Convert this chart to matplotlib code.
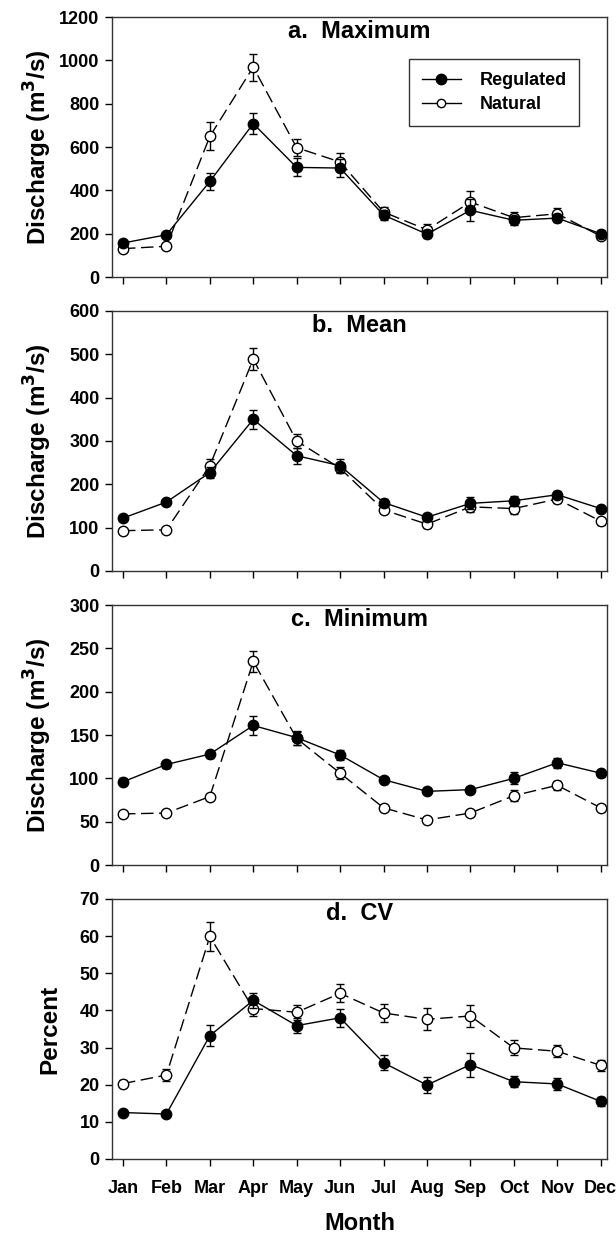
import numpy as np
import matplotlib
matplotlib.use("Agg")
import matplotlib.pyplot as plt
from matplotlib.lines import Line2D

plt.rcParams["font.family"] = ["Liberation Sans", "DejaVu Sans"]
plt.rcParams["font.weight"] = "bold"
plt.rcParams["mathtext.default"] = "bf"

months = ["Jan", "Feb", "Mar", "Apr", "May", "Jun",
          "Jul", "Aug", "Sep", "Oct", "Nov", "Dec"]

# a. Maximum discharge (m3/s)
max_reg = [157, 195, 441, 708, 506, 503, 286, 198, 308, 262, 272, 200]
max_reg_err = [10, 10, 40, 48, 42, 40, 25, 20, 50, 20, 20, 15]
max_nat = [131, 142, 649, 969, 597, 531, 300, 218, 346, 274, 292, 189]
max_nat_err = [10, 12, 65, 62, 38, 42, 25, 25, 52, 25, 25, 15]

# b. Mean discharge (m3/s)
mean_reg = [122, 159, 227, 350, 266, 243, 158, 124, 156, 162, 176, 144]
mean_reg_err = [5, 5, 12, 22, 18, 15, 8, 7, 14, 12, 8, 6]
mean_nat = [93, 95, 243, 489, 300, 237, 141, 108, 148, 144, 166, 115]
mean_nat_err = [5, 5, 15, 25, 17, 10, 8, 8, 12, 12, 8, 8]

# c. Minimum discharge (m3/s)
min_reg = [96, 116, 128, 161, 147, 127, 98.5, 85, 87, 100, 118, 106]
min_reg_err = [4, 4, 4, 11, 8, 6, 3, 3, 3, 7, 6, 4]
min_nat = [59, 60, 79, 235, 146, 106, 66, 52, 60, 80, 92, 66]
min_nat_err = [3, 3, 3, 12, 8, 7, 3, 3, 3, 6, 5, 3]

# d. Coefficient of variation (%)
cv_reg = [12.5, 12.1, 33.2, 42.7, 35.9, 38.0, 25.9, 19.9, 25.4, 20.8, 20.2, 15.5]
cv_reg_err = [0.6, 0.6, 2.8, 2.0, 2.0, 2.4, 2.0, 2.2, 3.2, 1.5, 1.6, 1.2]
cv_nat = [20.3, 22.6, 59.9, 40.5, 39.5, 44.6, 39.3, 37.6, 38.5, 29.9, 29.0, 25.2]
cv_nat_err = [1.0, 1.6, 3.9, 2.0, 2.0, 2.4, 2.4, 3.0, 3.0, 2.0, 1.6, 1.4]

panels = [
    ("a.  Maximum", max_reg, max_reg_err, max_nat, max_nat_err, 1200, 200,
     "Discharge (m$^3$/s)", -0.117),
    ("b.  Mean", mean_reg, mean_reg_err, mean_nat, mean_nat_err, 600, 100,
     "Discharge (m$^3$/s)", -0.117),
    ("c.  Minimum", min_reg, min_reg_err, min_nat, min_nat_err, 300, 50,
     "Discharge (m$^3$/s)", -0.117),
    ("d.  CV", cv_reg, cv_reg_err, cv_nat, cv_nat_err, 70, 10, "Percent",
     -0.102),
]

fig = plt.figure(figsize=(6.16, 12.34), dpi=100)
bottoms = [0.7755, 0.5373, 0.2990, 0.0608]
x = np.arange(len(months))

for i, (title, reg, reg_err, nat, nat_err, ymax, step, ylabel, ylab_x) in enumerate(panels):
    ax = fig.add_axes([0.182, bottoms[i], 0.803, 0.2107])
    ax.errorbar(x, nat, yerr=nat_err, color="black", lw=1.0,
                linestyle=(0, (9, 4)), marker="o", ms=7.5, mfc="white",
                mec="black", mew=1.0, capsize=3, elinewidth=1.0, capthick=1.0,
                zorder=2)
    ax.errorbar(x, reg, yerr=reg_err, color="black", lw=1.0, linestyle="-",
                marker="o", ms=7.5, mfc="black", mec="black", capsize=3,
                elinewidth=1.0, capthick=1.0, zorder=3)

    ax.set_xlim(-0.25, 11.14)
    ax.set_ylim(0, ymax)
    ax.set_yticks(np.arange(0, ymax + step, step))
    ax.set_xticks(x)
    if i == 3:
        ax.set_xticklabels(months, fontsize=13, fontweight="bold")
        ax.set_xlabel("Month", fontsize=17, fontweight="bold", labelpad=11)
    else:
        ax.set_xticklabels([])
    ax.tick_params(axis="both", direction="out", length=5, width=1,
                   labelsize=13, colors="black")
    ax.tick_params(axis="x", pad=10)
    ax.tick_params(axis="y", pad=4)
    for lab in ax.get_yticklabels():
        lab.set_fontweight("bold")
    for sp in ax.spines.values():
        sp.set_color("#333333")
        sp.set_linewidth(1.0)

    ax.set_ylabel(ylabel, fontsize=17.5, fontweight="bold")
    ax.yaxis.set_label_coords(ylab_x, 0.5)
    ax.text(0.5, 0.943, title, transform=ax.transAxes, ha="center",
            va="center", fontsize=17, fontweight="bold")

    if i == 0:
        handles = [
            Line2D([], [], color="black", lw=1.0, marker="o", ms=7.5,
                   mfc="black", mec="black"),
            Line2D([], [], color="black", lw=1.0, marker="o", ms=6,
                   mfc="white", mec="black"),
        ]
        leg = ax.legend(handles, ["Regulated", "Natural"], loc="upper right",
                        bbox_to_anchor=(0.944, 0.837), borderaxespad=0,
                        fancybox=False, framealpha=1, edgecolor="#333333",
                        prop={"size": 13, "weight": "bold"},
                        handlelength=2.2, borderpad=0.7, labelspacing=0.4,
                        handletextpad=1.0)
        leg.get_frame().set_linewidth(1.0)

fig.savefig("out.png", dpi=100)
